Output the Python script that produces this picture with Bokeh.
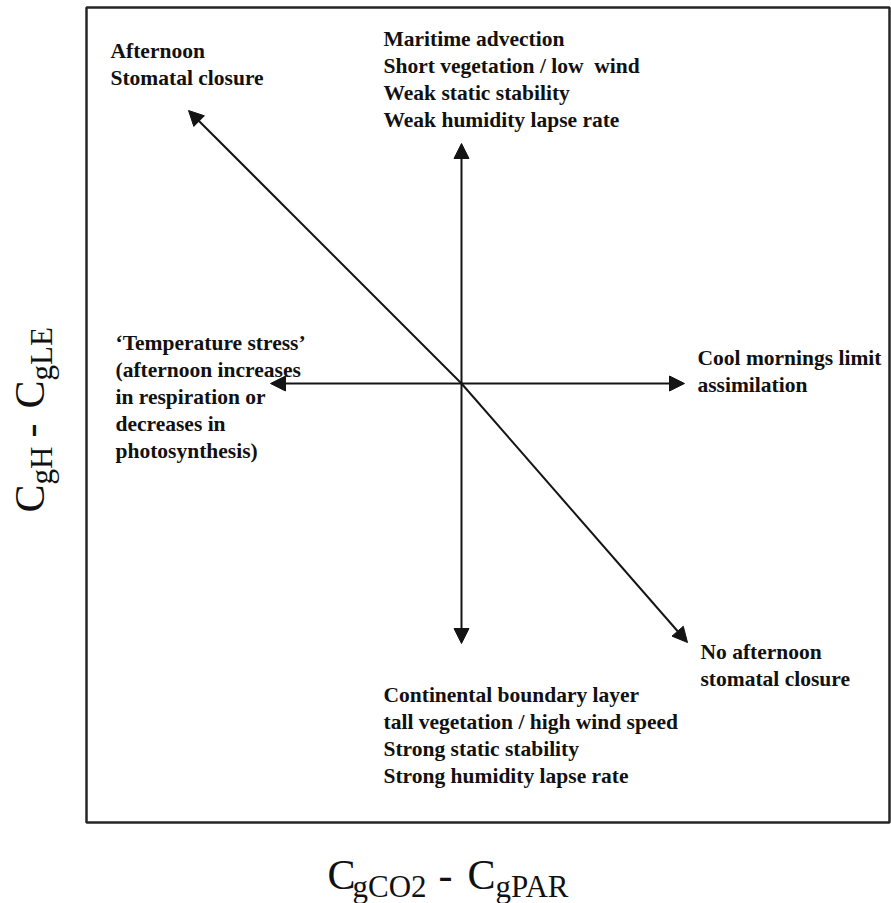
import math
from bokeh.plotting import figure
from bokeh.models import Range1d, ColumnDataSource, Arrow, NormalHead
from bokeh.core.properties import value
from bokeh.embed import file_html
from bokeh.resources import INLINE

# ---- diagram data (conceptual coordinates, origin at the crossing) ----
origin = [0.0, 0.0]
# double-headed axes arrows: (x0, y0) -> (x1, y1)
axis_x0 = [-1.91, 0.0]
axis_y0 = [0.0, 2.40]
axis_x1 = [2.23, 0.0]
axis_y1 = [0.0, -2.60]
# diagonal arrow, drawn from the origin to both ends
diag_x1 = [-2.73, 2.26]
diag_y1 = [2.73, -2.59]

# frame box
box_left, box_right, box_top, box_bottom = -3.75, 4.28, 3.76, -4.39

# text blocks: (anchor x, first baseline y, lines)
labels_afternoon = ["Afternoon", "Stomatal closure"]
labels_top = ["Maritime advection", "Short vegetation / low\u00a0\u00a0wind",
              "Weak static stability", "Weak humidity lapse rate"]
labels_left = ["\u2018Temperature stress\u2019", "(afternoon increases",
               "in respiration or", "decreases in", "photosynthesis)"]
labels_right = ["Cool mornings limit", "assimilation"]
labels_noclosure = ["No afternoon", "stomatal closure"]
labels_bottom = ["Continental boundary layer", "tall vegetation / high wind speed",
                 "Strong static stability", "Strong humidity lapse rate"]

blocks = [
    (-3.51, 3.24, labels_afternoon),
    (-0.78, 3.36, labels_top),
    (-3.46, 0.32, labels_left),
    (2.36, 0.17, labels_right),
    (2.39, -2.77, labels_noclosure),
    (-0.78, -3.20, labels_bottom),
]
line_pitch = 0.27

# axis titles split into normal + subscript pieces
xlab_text = ["C", "gCO2", "-", "C", "gPAR"]
xlab_sub = [False, True, False, False, True]
xlab_x = [-1.34, -1.09, -0.23, 0.06, 0.34]
xlab_base = -5.07
xlab_subbase = -5.15

ylab_text = ["C", "gH", "-", "C", "gLE"]
ylab_sub = [False, True, False, False, True]
ylab_y = [-1.29, -1.01, -0.54, -0.25, 0.03]
ylab_base = -4.16
ylab_subbase = -4.08

body_px, main_px, sub_px = 21.5, 42, 31
PX = 0.01  # data units per screen pixel


def fix(px):
    # the svg text baseline lands ~0.38 em low; compensate
    return 0.38 * px * PX


# ---- figure ----
W, H = 891, 903
p = figure(width=W, height=H, output_backend="svg", toolbar_location=None,
           x_range=Range1d(-4.61, 4.30), y_range=Range1d(-5.20, 3.83),
           x_axis_location=None, y_axis_location=None, min_border=0,
           outline_line_color=None, background_fill_color="white",
           border_fill_color="white")
p.xgrid.visible = False
p.ygrid.visible = False

# frame box
p.quad(left=[box_left], right=[box_right], top=[box_top], bottom=[box_bottom],
       fill_color=None, line_color="#262626", line_width=2.5)

ink = "#141414"


def head():
    return NormalHead(size=15, fill_color=ink, line_color=ink, line_width=1)


axis_src = ColumnDataSource(dict(x0=axis_x0, y0=axis_y0, x1=axis_x1, y1=axis_y1))
p.add_layout(Arrow(start=head(), end=head(), x_start="x0", y_start="y0",
                   x_end="x1", y_end="y1", source=axis_src,
                   line_color=ink, line_width=2))

diag_src = ColumnDataSource(dict(x0=[origin[0]] * 2, y0=[origin[1]] * 2,
                                 x1=diag_x1, y1=diag_y1))
p.add_layout(Arrow(end=head(), x_start="x0", y_start="y0",
                   x_end="x1", y_end="y1", source=diag_src,
                   line_color=ink, line_width=2))

# text blocks
tx, ty, tt = [], [], []
for bx, by, lines in blocks:
    for i, s in enumerate(lines):
        tx.append(bx)
        ty.append(by - i * line_pitch + fix(body_px))
        tt.append(s)
p.text(x=tx, y=ty, text=tt, text_font=value("Liberation Serif"),
       text_font_style="bold", text_font_size=f"{body_px}px", text_color="#111111",
       text_align="left", text_baseline="alphabetic")

# x axis title
for s, sub, x in zip(xlab_text, xlab_sub, xlab_x):
    size = sub_px if sub else main_px
    base = xlab_subbase if sub else xlab_base
    p.text(x=[x], y=[base + fix(size)], text=[s],
           text_font=value("Liberation Serif"),
           text_font_size=f"{size}px",
           text_color="#111111", text_align="left", text_baseline="alphabetic")

# y axis title (rotated)
for s, sub, y in zip(ylab_text, ylab_sub, ylab_y):
    size = sub_px if sub else main_px
    base = ylab_subbase if sub else ylab_base
    p.text(x=[base - fix(size)], y=[y], text=[s],
           angle=math.pi / 2,
           text_font=value("Liberation Serif"),
           text_font_size=f"{size}px",
           text_color="#111111", text_align="left", text_baseline="alphabetic")

open("out.html", "w").write(file_html(p, INLINE))
